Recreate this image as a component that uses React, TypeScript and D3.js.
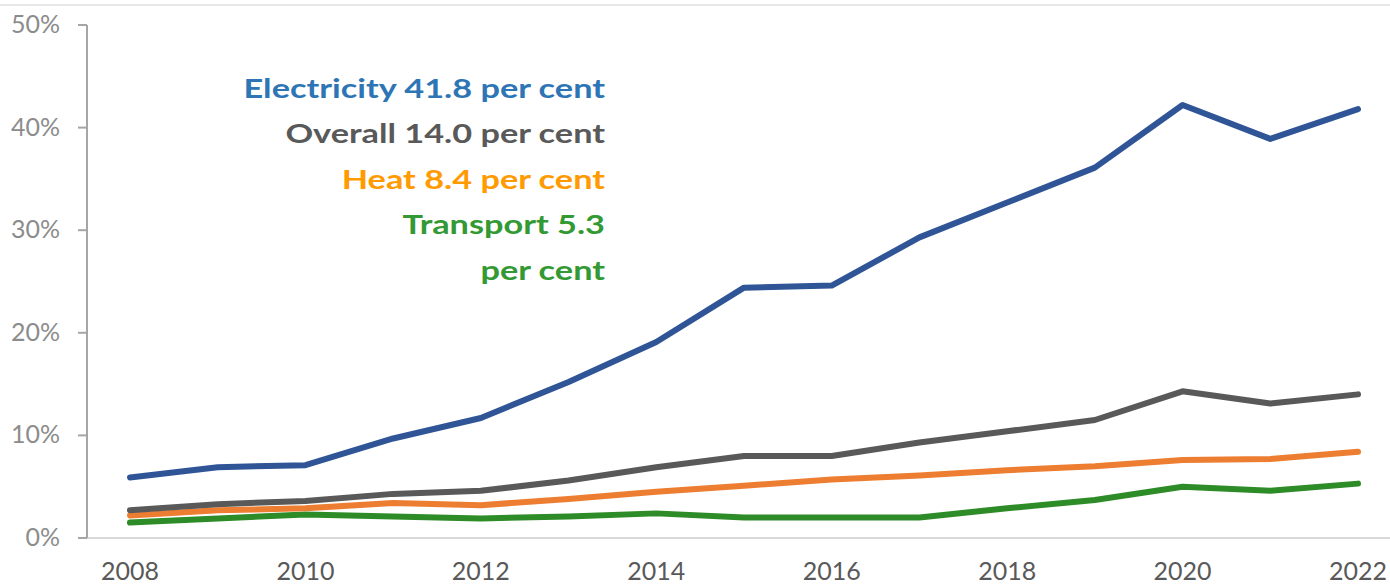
import React, { useEffect, useRef } from "react";
import * as d3 from "d3";

const years = [2008, 2009, 2010, 2011, 2012, 2013, 2014, 2015, 2016, 2017, 2018, 2019, 2020, 2021, 2022];
const electricity = [5.9, 6.9, 7.1, 9.7, 11.7, 15.2, 19.1, 24.4, 24.6, 29.3, 32.7, 36.1, 42.2, 38.9, 41.8];
const overall = [2.7, 3.3, 3.6, 4.3, 4.6, 5.6, 6.9, 8.0, 8.0, 9.3, 10.4, 11.5, 14.3, 13.1, 14.0];
const heat = [2.2, 2.7, 2.9, 3.4, 3.2, 3.8, 4.5, 5.1, 5.7, 6.1, 6.6, 7.0, 7.6, 7.7, 8.4];
const transport = [1.5, 1.9, 2.3, 2.1, 1.9, 2.1, 2.4, 2.0, 2.0, 2.0, 2.9, 3.7, 5.0, 4.6, 5.3];
const yTicks = [0, 10, 20, 30, 40, 50];
const xTickYears = [2008, 2010, 2012, 2014, 2016, 2018, 2020, 2022];
const legendLines = ["Electricity 41.8 per cent", "Overall 14.0 per cent", "Heat 8.4 per cent", "Transport 5.3", "per cent"];

const W = 1390;
const H = 586;

export default function App() {
  const ref = useRef<SVGSVGElement>(null);

  useEffect(() => {
    const svg = d3.select(ref.current);
    svg.selectAll("*").remove();

    const x = d3.scaleLinear().domain([2008, 2022]).range([130, 1358]);
    const y = d3.scaleLinear().domain([0, 50]).range([538, 25]);
    const axisX = 87;

    // top border line
    svg.append("line").attr("x1", 0).attr("x2", W).attr("y1", 5).attr("y2", 5)
      .attr("stroke", "#e0e0e0").attr("stroke-width", 1.5);

    // x axis baseline
    svg.append("line").attr("x1", axisX).attr("x2", W).attr("y1", y(0)).attr("y2", y(0))
      .attr("stroke", "#d9d9d9").attr("stroke-width", 2);

    // y axis
    svg.append("line").attr("x1", axisX).attr("x2", axisX).attr("y1", y(50)).attr("y2", y(0))
      .attr("stroke", "#a6a6a6").attr("stroke-width", 2);

    const yg = svg.append("g");
    yTicks.forEach((t) => {
      yg.append("line").attr("x1", axisX - 9).attr("x2", axisX).attr("y1", y(t)).attr("y2", y(t))
        .attr("stroke", "#a6a6a6").attr("stroke-width", 2);
      yg.append("text").attr("x", 60).attr("y", y(t) + 8).attr("text-anchor", "end")
        .attr("font-family", "Lato, sans-serif").attr("font-size", 25).attr("fill", "#8c8c8c")
        .text(`${t}%`);
    });

    const xg = svg.append("g");
    xTickYears.forEach((yr) => {
      xg.append("text").attr("x", x(yr)).attr("y", 580).attr("text-anchor", "middle")
        .attr("font-family", "Lato, sans-serif").attr("font-size", 25).attr("fill", "#595959")
        .text(String(yr));
    });

    const series = [
      { values: transport, color: "#2d8c27" },
      { values: heat, color: "#ed7d31" },
      { values: overall, color: "#595959" },
      { values: electricity, color: "#2f5597" },
    ];
    const line = d3.line<number>().x((_, i) => x(years[i])).y((d) => y(d));
    series.forEach((s) => {
      svg.append("path").attr("d", line(s.values) as string).attr("fill", "none")
        .attr("stroke", s.color).attr("stroke-width", 6)
        .attr("stroke-linecap", "round").attr("stroke-linejoin", "round");
    });

    const legendColors = ["#2e75b6", "#595959", "#ff9a00", "#339933", "#339933"];
    const lg = svg.append("g").attr("transform", "translate(605,0) scale(1.27,1)");
    legendLines.forEach((txt, i) => {
      lg.append("text").attr("x", 0).attr("y", 98 + i * 45.5).attr("text-anchor", "end")
        .attr("font-family", "Lato, sans-serif").attr("font-weight", "bold").attr("font-size", 27)
        .attr("fill", legendColors[i]).text(txt);
    });
  }, []);

  return (
    <svg ref={ref} width={W} height={H} style={{ position: "absolute", left: 0, top: 0, background: "#fff" }} />
  );
}
